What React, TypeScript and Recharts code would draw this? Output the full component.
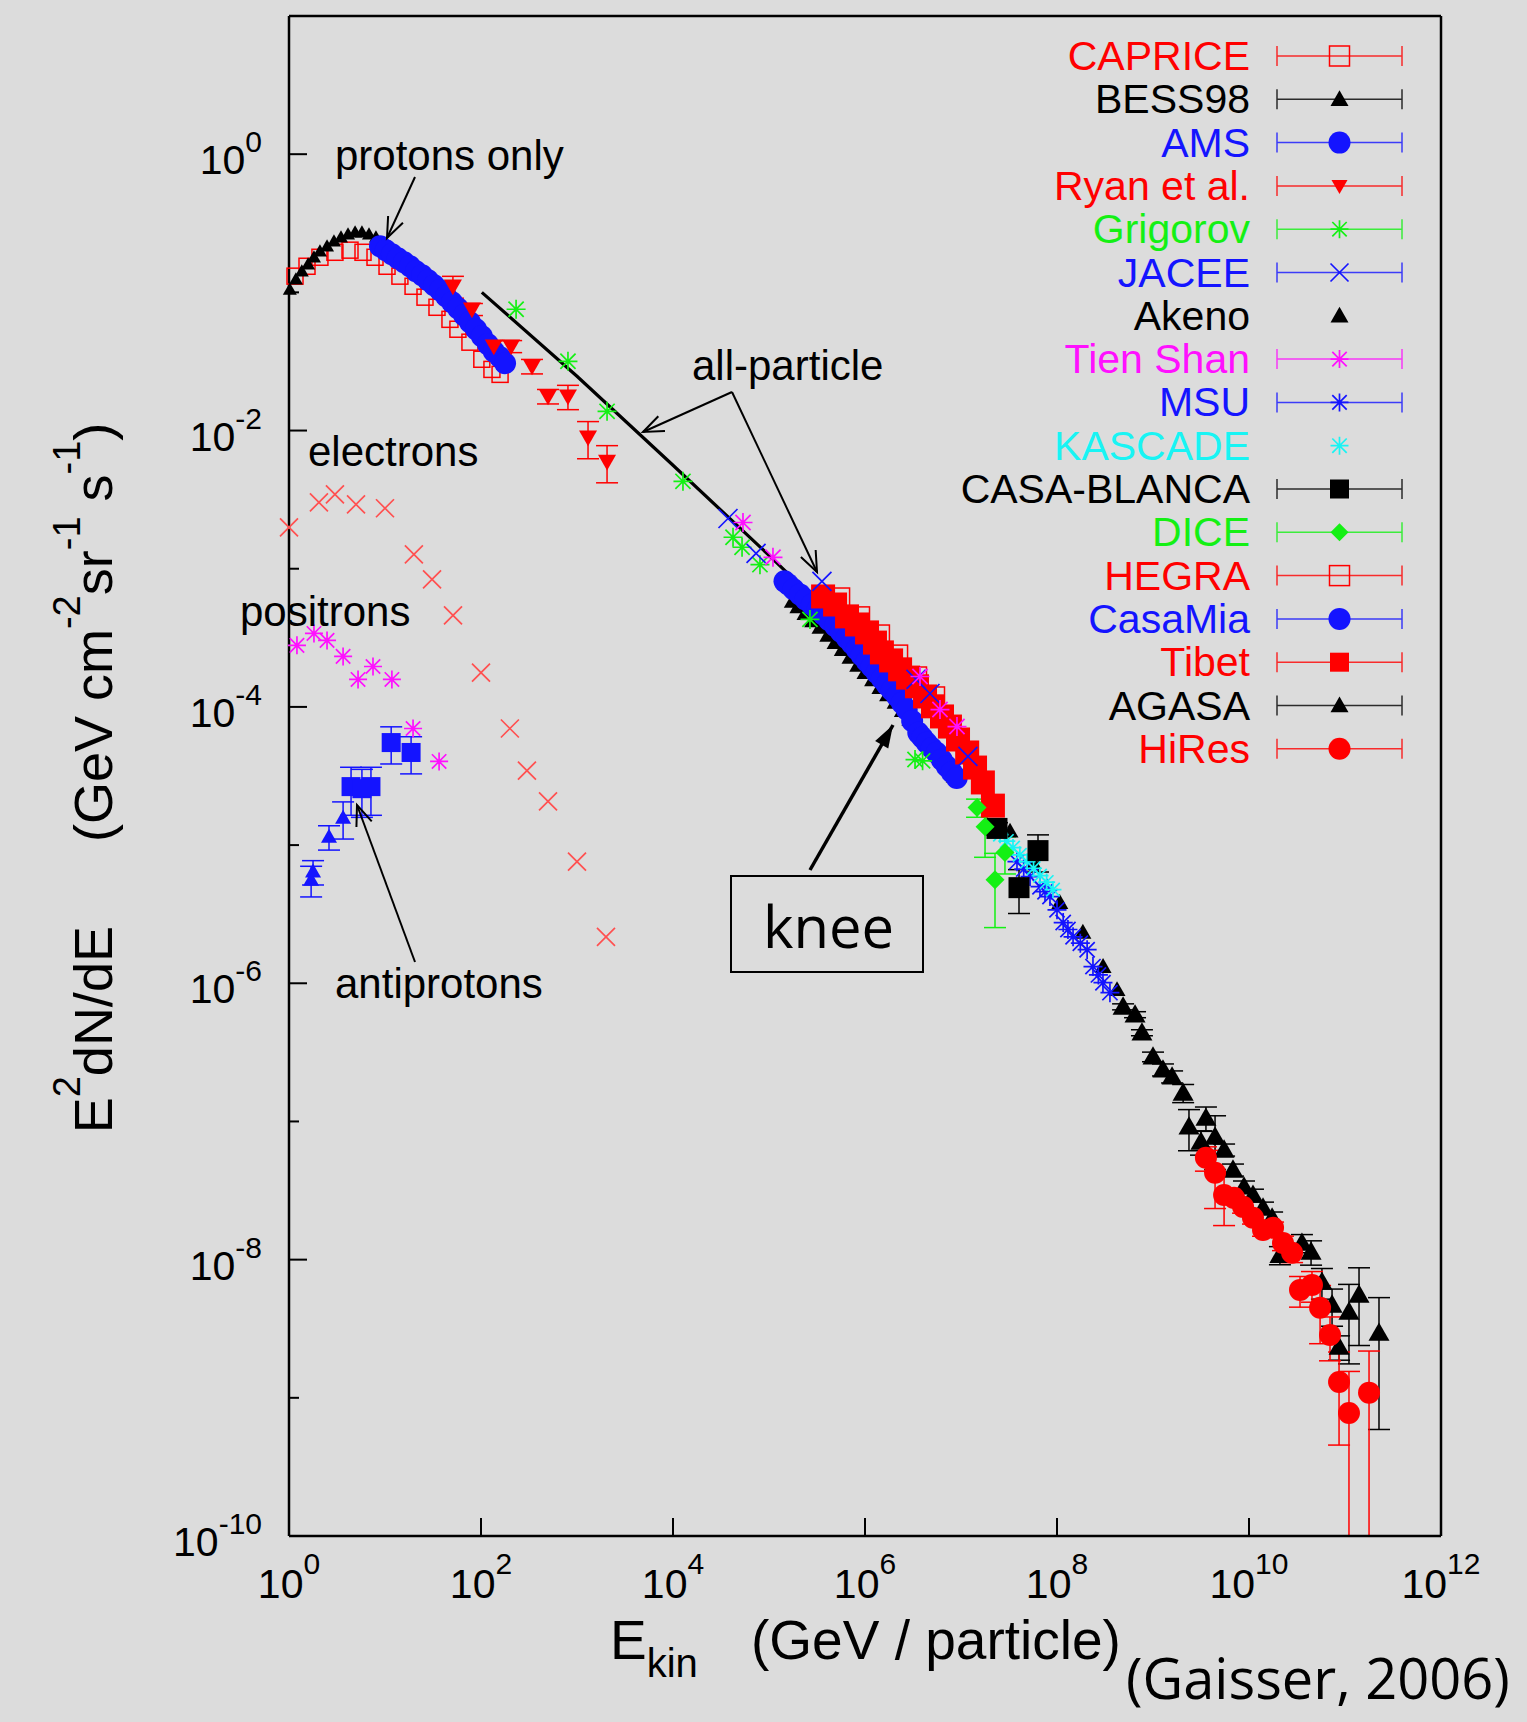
import React from 'react';
import { ScatterChart, Scatter, XAxis, YAxis, ErrorBar } from 'recharts';

// [E (GeV), E^2 dN/dE, relative error (optional)]
type Pt = [number, number, number?];

const caprice: Pt[] = [
  [1.155, 0.131], [1.54, 0.1545], [2.1, 0.1795], [3.01, 0.195], [4.32, 0.202], [5.9, 0.195],
  [7.87, 0.1795], [10.5, 0.1545], [14.3, 0.131], [19.6, 0.1107], [26.1, 0.0923], [34.8, 0.078],
  [47.5, 0.0638], [57.5, 0.0541], [76.7, 0.0436], [102, 0.0328], [130, 0.0277], [158, 0.0255],
];
const bess98: Pt[] = [
  [1.02, 0.105], [1.18, 0.1245], [1.36, 0.1422], [1.58, 0.1596], [1.82, 0.1795], [2.1, 0.1986],
  [2.49, 0.2158], [2.94, 0.2344], [3.48, 0.2506], [4.12, 0.2636], [4.88, 0.2723], [5.75, 0.2723],
  [6.81, 0.2636], [8.05, 0.2506], [11.3, 0.2123], [18.2, 0.1679], [29.4, 0.1285], [47.5, 0.0953], [76.7, 0.0661],
];
const ams: Pt[] = [
  [8.87, 0.2158], [10.2, 0.2018], [11.8, 0.1888], [13.6, 0.1766], [15.8, 0.1652], [18.2, 0.1545],
  [21.0, 0.1422], [24.3, 0.133], [28.1, 0.1225], [32.4, 0.1125], [37.4, 0.1035], [43.2, 0.0938],
  [49.9, 0.0847], [57.5, 0.0767], [66.5, 0.0682], [76.7, 0.0607], [88.7, 0.0541], [102, 0.0481],
  [118, 0.0421], [136, 0.0374], [158, 0.0339], [178, 0.0307],
];
const ryan: Pt[] = [
  [51.0, 0.1107, 0.18], [80.5, 0.0755, 0.1], [136, 0.0407, 0.1], [206, 0.0407, 0.1], [340, 0.0292, 0.12],
  [499, 0.0177, 0.12], [805, 0.0177, 0.2], [1303, 0.00893, 0.3], [2056, 0.00598, 0.3],
];
const grigorov: Pt[] = [
  [232, 0.0755], [805, 0.0317], [2056, 0.01377], [1.27e4, 4.29e-3], [4.22e4, 1.69e-3],
  [5.24e4, 1.43e-3], [8.05e4, 1.07e-3], [2.67e5, 4.3e-4], [3.32e6, 4.16e-5], [3.98e6, 4.07e-5],
];
const jacee: Pt[] = [
  [3.74e4, 2.31e-3], [7.33e4, 1.29e-3], [3.56e5, 8.09e-4], [3.4e6, 1.58e-4], [4.75e6, 1.25e-4], [1.18e7, 4.38e-5],
];
const tienShan: Pt[] = [
  [5.36e4, 2.16e-3], [1.1e5, 1.21e-3], [3.74e6, 1.66e-4], [6.04e6, 9.57e-5], [9.08e6, 7.21e-5],
];
const msu: Pt[] = [
  [3.83e7, 7.59e-6], [4.5e7, 6.7e-6], [5.24e7, 5.92e-6], [6.65e7, 5.0e-6], [7.5e7, 4.6e-6], [8.45e7, 4.24e-6],
  [1.0e8, 3.4e-6], [1.16e8, 2.75e-6], [1.3e8, 2.45e-6], [1.47e8, 2.17e-6], [1.75e8, 1.95e-6], [2.06e8, 1.75e-6],
  [2.37e8, 1.32e-6], [2.7e8, 1.15e-6], [3.01e8, 1.01e-6], [3.56e8, 8.55e-7],
];
const kascade: Pt[] = [
  [2.55e7, 1.19e-5], [3.0e7, 1.07e-5], [3.48e7, 9.59e-6], [4.1e7, 8.5e-6], [4.88e7, 7.59e-6],
  [5.7e7, 6.8e-6], [6.65e7, 6.01e-6], [7.8e7, 5.4e-6], [9.08e7, 4.76e-6],
];
const casaBlanca: Pt[] = [
  [2.37e7, 1.32e-5, 0.1], [6.34e7, 9.12e-6, 0.3], [4.02e7, 4.92e-6, 0.35],
];
const dice: Pt[] = [
  [1.47e7, 1.87e-5, 0.15], [1.78e7, 1.36e-5, 0.4], [2.87e7, 8.83e-6, 0.3], [2.26e7, 5.62e-6, 0.55],
];
const hegra: Pt[] = [
  [5.5e5, 6.19e-4], [8.87e5, 4.52e-4], [1.43e6, 3.34e-4], [2.21e6, 2.39e-4], [3.48e6, 1.66e-4], [5.36e6, 1.19e-4],
];
const casaMia: Pt[] = [
  [1.45e5, 8.1e-4], [1.59e5, 7.69e-4], [1.8e5, 7.1e-4], [2.1e5, 6.52e-4], [2.4e5, 6.0e-4], [2.79e5, 5.51e-4],
  [3.2e5, 5.05e-4], [3.68e5, 4.67e-4], [4.2e5, 4.25e-4], [4.88e5, 3.85e-4], [5.6e5, 3.5e-4], [6.44e5, 3.16e-4],
  [7.3e5, 2.88e-4], [8.18e5, 2.61e-4], [9.2e5, 2.37e-4], [1.04e6, 2.14e-4], [1.17e6, 1.95e-4], [1.32e6, 1.77e-4],
  [1.5e6, 1.6e-4], [1.68e6, 1.45e-4], [1.9e6, 1.32e-4], [2.14e6, 1.2e-4], [2.42e6, 1.07e-4], [2.72e6, 9.57e-5],
  [3.1e6, 7.9e-5], [3.59e6, 6.49e-5], [3.95e6, 6.0e-5], [4.39e6, 5.5e-5], [4.95e6, 5.05e-5], [5.58e6, 4.65e-5],
  [6.3e6, 4.15e-5], [7.1e6, 3.72e-5], [8.0e6, 3.37e-5], [9.02e6, 3.06e-5],
];
const tibet: Pt[] = [
  [3.66e5, 6.3e-4], [4.88e5, 5.51e-4], [6.5e5, 4.52e-4], [8.26e5, 3.95e-4], [1.05e6, 3.46e-4],
  [1.27e6, 2.92e-4], [1.5e6, 2.48e-4], [1.87e6, 2.17e-4], [2.32e6, 1.87e-4], [2.81e6, 1.63e-4],
  [3.48e6, 1.41e-4], [4.22e6, 1.19e-4], [5.11e6, 1.01e-4], [6.34e6, 8.53e-5], [7.67e6, 7.21e-5],
  [9.31e6, 5.81e-5], [1.16e7, 4.68e-5], [1.4e7, 3.64e-5], [1.69e7, 2.84e-5], [2.15e7, 1.93e-5],
];
const akeno: Pt[] = [
  [1.75e5, 5.8e-4], [2.0e5, 5.3e-4], [2.37e5, 4.74e-4], [2.85e5, 4.2e-4], [3.4e5, 3.76e-4], [4.1e5, 3.3e-4],
  [4.88e5, 2.92e-4], [5.8e5, 2.6e-4], [6.98e5, 2.28e-4], [8.4e5, 2.0e-4], [1.0e6, 1.77e-4], [1.2e6, 1.57e-4],
  [1.43e6, 1.38e-4], [1.72e6, 1.22e-4], [2.06e6, 1.08e-4], [2.45e6, 9.4e-5], [2.94e6, 8.11e-5], [3.5e6, 7.0e-5],
  [4.22e6, 6.0e-5], [6.03e6, 4.37e-5], [8.51e6, 3.16e-5], [3.24e7, 1.26e-5], [5.62e7, 7.46e-6], [1.07e8, 3.84e-6],
  [1.86e8, 2.34e-6], [3.02e8, 1.32e-6], [4.22e8, 8.99e-7],
];
const agasa: Pt[] = [
  [4.88e8, 6.76e-7, 0.05], [6.5e8, 5.93e-7, 0.05], [7.67e8, 4.39e-7, 0.05], [1.0e9, 2.94e-7, 0.08],
  [1.27e9, 2.37e-7, 0.1], [1.58e9, 2.11e-7, 0.1], [2.06e9, 1.61e-7, 0.15], [2.37e9, 9.16e-8, 0.33],
  [3.16e9, 7.13e-8, 0.2], [3.56e9, 1.06e-7, 0.2], [4.43e9, 7.74e-8, 0.42], [5.5e9, 6.24e-8, 0.1],
  [6.81e9, 4.47e-8, 0.1], [8.87e9, 3.37e-8, 0.1], [1.1e10, 2.94e-8, 0.1], [1.4e10, 2.37e-8, 0.1],
  [1.74e10, 2.01e-8, 0.1], [2.1e10, 1.08e-8, 0.15], [3.56e10, 1.32e-8, 0.15], [4.43e10, 1.14e-8, 0.2],
  [5.75e10, 6.9e-9, 0.25], [7.33e10, 4.71e-9, 0.3], [8.67e10, 2.34e-9, 0.2], [1.1e11, 4.19e-9, 0.58],
  [1.4e11, 5.56e-9, 0.57], [2.26e11, 2.95e-9, 0.8],
];
const hiRes: Pt[] = [
  [3.56e9, 5.46e-8, 0.2], [4.43e9, 4.26e-8, 0.45], [5.5e9, 2.94e-8, 0.4], [6.98e9, 2.8e-8, 0.1],
  [8.67e9, 2.41e-8, 0.1], [1.1e10, 2.01e-8, 0.1], [1.4e10, 1.64e-8, 0.1], [1.78e10, 1.7e-8, 0.1],
  [2.26e10, 1.32e-8, 0.12], [2.81e10, 1.12e-8, 0.15], [3.4e10, 6.04e-9, 0.25], [4.53e10, 6.56e-9, 0.25],
  [5.5e10, 4.48e-9, 0.45], [6.98e10, 2.85e-9, 0.35], [8.67e10, 1.3e-9, 0.65], [1.1e11, 7.76e-10, 1.0],
  [1.78e11, 1.09e-9, 1.0],
];
const electrons: Pt[] = [
  [1.0, 1.99e-3], [2.05, 3.02e-3], [3.01, 3.45e-3], [4.99, 2.92e-3], [10.0, 2.74e-3], [20.0, 1.27e-3],
  [30.9, 8.38e-4], [51.1, 4.59e-4], [100, 1.77e-4], [200, 6.98e-5], [301, 3.46e-5], [499, 2.07e-5],
  [1000, 7.6e-6], [2004, 2.17e-6],
];
const positrons: Pt[] = [
  [1.21, 2.79e-4], [1.82, 3.4e-4], [2.49, 3.03e-4], [3.66, 2.32e-4], [5.24, 1.58e-4], [7.5, 1.96e-4],
  [11.8, 1.58e-4], [19.6, 6.98e-5], [36.6, 4.03e-5],
];
const antiprotonsTri: Pt[] = [
  [1.7, 5.62e-6, 0.25], [1.78, 6.43e-6, 0.2], [2.61, 1.15e-5, 0.2], [3.66, 1.58e-5, 0.3],
];
const antiprotonsSq: Pt[] = [
  [4.43, 2.65e-5, 0.38], [5.75, 2.56e-5, 0.38], [7.14, 2.65e-5, 0.38], [11.6, 5.52e-5, 0.3], [18.7, 4.68e-5, 0.3],
];
const allParticle: Pt[] = [
  [102, 0.1], [1000, 0.0247], [1e4, 5.61e-3], [1e5, 1.25e-3], [1.66e5, 8.91e-4],
];

const xTicks = [1, 1e2, 1e4, 1e6, 1e8, 1e10, 1e12];
const yTicks = [1e-10, 1e-9, 1e-8, 1e-7, 1e-6, 1e-5, 1e-4, 1e-3, 1e-2, 1e-1, 1];

const RED = '#ff0000';
const BLUE = '#1414ff';
const GREEN = '#14f014';
const MAG = '#ff10ff';
const CYAN = '#18f4f4';
const BLACK = '#000000';
const SANS = '"Liberation Sans", Arial, Helvetica, sans-serif';
const OPEN = '"Open Sans", sans-serif';

const AXIS_MIN = 1e-10;
const toRows = (pts: Pt[]) =>
  pts.map(([e, f, rel]) => ({
    e,
    f,
    err: rel ? [Math.min(f * rel, f - AXIS_MIN), f * rel] : undefined,
  }));

function Mark({ kind, cx, cy, s, c }: { kind: string; cx: number; cy: number; s: number; c: string }) {
  const h = s / 2;
  if (kind === 'osq') return <rect x={cx - h} y={cy - h} width={s} height={s} fill="none" stroke={c} strokeWidth={1.5} />;
  if (kind === 'sq') return <rect x={cx - h} y={cy - h} width={s} height={s} fill={c} />;
  if (kind === 'circ') return <circle cx={cx} cy={cy} r={h} fill={c} />;
  if (kind === 'tri')
    return <path d={`M${cx} ${cy - h}L${cx + h} ${cy + h * 0.75}L${cx - h} ${cy + h * 0.75}Z`} fill={c} />;
  if (kind === 'dtri')
    return <path d={`M${cx} ${cy + h}L${cx + h} ${cy - h * 0.75}L${cx - h} ${cy - h * 0.75}Z`} fill={c} />;
  if (kind === 'dia') return <path d={`M${cx} ${cy - h}L${cx + h} ${cy}L${cx} ${cy + h}L${cx - h} ${cy}Z`} fill={c} />;
  if (kind === 'x')
    return (
      <path
        d={`M${cx - h} ${cy - h}L${cx + h} ${cy + h}M${cx - h} ${cy + h}L${cx + h} ${cy - h}`}
        stroke={c} strokeWidth={1.7} fill="none"
      />
    );
  // star: + and x together
  return (
    <path
      d={`M${cx - h} ${cy}L${cx + h} ${cy}M${cx} ${cy - h}L${cx} ${cy + h}M${cx - h * 0.8} ${cy - h * 0.8}L${cx + h * 0.8} ${cy + h * 0.8}M${cx - h * 0.8} ${cy + h * 0.8}L${cx + h * 0.8} ${cy - h * 0.8}`}
      stroke={c} strokeWidth={1.7} fill="none"
    />
  );
}

// draw order (later on top)
const plotSeries = [
  { name: 'CAPRICE', pts: caprice, kind: 'osq', color: RED, size: 16, bars: false },
  { name: 'BESS98', pts: bess98, kind: 'tri', color: BLACK, size: 14, bars: false },
  { name: 'AMS', pts: ams, kind: 'circ', color: BLUE, size: 22, bars: false },
  { name: 'Ryan et al.', pts: ryan, kind: 'dtri', color: RED, size: 18, bars: true },
  { name: 'electrons', pts: electrons, kind: 'x', color: '#ff5050', size: 18, bars: false },
  { name: 'positrons', pts: positrons, kind: 'star', color: MAG, size: 18, bars: false },
  { name: 'antiprotons A', pts: antiprotonsTri, kind: 'tri', color: BLUE, size: 16, bars: true },
  { name: 'antiprotons B', pts: antiprotonsSq, kind: 'sq', color: BLUE, size: 19, bars: true },
  { name: 'Akeno', pts: akeno, kind: 'tri', color: BLACK, size: 17, bars: false },
  { name: 'CasaMia', pts: casaMia, kind: 'circ', color: BLUE, size: 22, bars: false },
  { name: 'HEGRA', pts: hegra, kind: 'osq', color: RED, size: 19, bars: false },
  { name: 'Tibet', pts: tibet, kind: 'sq', color: RED, size: 24, bars: false },
  { name: 'Grigorov', pts: grigorov, kind: 'star', color: GREEN, size: 19, bars: false },
  { name: 'JACEE', pts: jacee, kind: 'x', color: BLUE, size: 19, bars: false },
  { name: 'Tien Shan', pts: tienShan, kind: 'star', color: MAG, size: 19, bars: false },
  { name: 'MSU', pts: msu, kind: 'star', color: BLUE, size: 19, bars: false },
  { name: 'KASCADE', pts: kascade, kind: 'star', color: CYAN, size: 17, bars: false },
  { name: 'CASA-BLANCA', pts: casaBlanca, kind: 'sq', color: BLACK, size: 21, bars: true },
  { name: 'DICE', pts: dice, kind: 'dia', color: GREEN, size: 19, bars: true },
  { name: 'AGASA', pts: agasa, kind: 'tri', color: BLACK, size: 21, bars: true },
  { name: 'HiRes', pts: hiRes, kind: 'circ', color: RED, size: 22, bars: true },
];

const legendNames = ['CAPRICE', 'BESS98', 'AMS', 'Ryan et al.', 'Grigorov', 'JACEE', 'Akeno', 'Tien Shan', 'MSU',
  'KASCADE', 'CASA-BLANCA', 'DICE', 'HEGRA', 'CasaMia', 'Tibet', 'AGASA', 'HiRes'];
const legendKinds = ['osq', 'tri', 'circ', 'dtri', 'star', 'x', 'tri', 'star', 'star', 'star', 'sq', 'dia', 'osq', 'circ', 'sq', 'tri', 'circ'];
const legendColors = [RED, BLACK, BLUE, RED, GREEN, BLUE, BLACK, MAG, BLUE, CYAN, BLACK, GREEN, RED, BLUE, RED, BLACK, RED];
const legendBars = [1, 1, 1, 1, 1, 1, 0, 1, 1, 0, 1, 1, 1, 1, 1, 1, 1];
const legendSizes = [20, 18, 22, 16, 18, 18, 18, 18, 18, 18, 19, 18, 20, 22, 19, 18, 22];

const YTick = (p: any) => {
  const { x, y, payload, side } = p;
  const exp = Math.round(Math.log10(payload.value));
  const major = exp % 2 === 0;
  const len = major ? 18 : 10;
  const dir = side === 'left' ? 1 : -1;
  return (
    <g>
      <line x1={x} y1={y} x2={x + dir * len} y2={y} stroke="#000" strokeWidth={2} />
      {side === 'left' && major && (
        <text x={x - 27} y={y + 20} textAnchor="end" fontSize={41} fontFamily={SANS} fill="#000">
          10<tspan dy={-22} fontSize={30}>{String(exp)}</tspan>
        </text>
      )}
    </g>
  );
};

const XTick = (p: any) => {
  const { x, y, payload, side } = p;
  const exp = Math.round(Math.log10(payload.value));
  const dir = side === 'bottom' ? -1 : 1;
  return (
    <g>
      <line x1={x} y1={y} x2={x} y2={y + dir * 18} stroke="#000" strokeWidth={2} />
      {side === 'bottom' && (
        <text x={x} y={y + 62} textAnchor="middle" fontSize={41} fontFamily={SANS} fill="#000">
          10<tspan dy={-24} fontSize={30}>{String(exp)}</tspan>
        </text>
      )}
    </g>
  );
};

function Arrow({ x1, y1, x2, y2, w = 2, head = 22, filled = false }: any) {
  const a = Math.atan2(y2 - y1, x2 - x1);
  const sp = filled ? 0.32 : 0.38;
  const ax = x2 - head * Math.cos(a - sp);
  const ay = y2 - head * Math.sin(a - sp);
  const bx = x2 - head * Math.cos(a + sp);
  const by = y2 - head * Math.sin(a + sp);
  return (
    <g>
      <line x1={x1} y1={y1} x2={x2} y2={y2} stroke="#000" strokeWidth={w} />
      {filled ? (
        <path d={`M${x2} ${y2}L${ax} ${ay}L${bx} ${by}Z`} fill="#000" />
      ) : (
        <path d={`M${ax} ${ay}L${x2} ${y2}L${bx} ${by}`} fill="none" stroke="#000" strokeWidth={w} />
      )}
    </g>
  );
}

const axisLine = { stroke: '#000', strokeWidth: 2.5 };

export default function App() {
  return (
    <div style={{ position: 'relative', width: 1527, height: 1722, background: '#dcdcdc', overflow: 'hidden' }}>
      <style>{'html,body{margin:0;padding:0;background:#dcdcdc;}'}</style>
      <ScatterChart width={1527} height={1722} margin={{ top: 10, right: 76, bottom: 106, left: 189 }}>
        <XAxis
          type="number" dataKey="e" scale="log" domain={[1, 1e12]}
          ticks={xTicks} interval={0} tickSize={0} tickMargin={0} tickLine={false}
          tick={(p: any) => <XTick {...p} side="bottom" />} axisLine={axisLine} height={80}
        />
        <XAxis
          xAxisId="top" orientation="top" type="number" scale="log" domain={[1, 1e12]}
          ticks={xTicks} interval={0} tickSize={0} tickMargin={0} tickLine={false}
          tick={(p: any) => <XTick {...p} side="top" />} axisLine={axisLine} height={6}
        />
        <YAxis
          type="number" dataKey="f" scale="log" domain={[1e-10, 10]}
          ticks={yTicks} interval={0} tickSize={0} tickMargin={0} tickLine={false}
          tick={(p: any) => <YTick {...p} side="left" />} axisLine={axisLine} width={100}
        />
        <YAxis
          yAxisId="right" orientation="right" type="number" scale="log" domain={[1e-10, 10]}
          ticks={yTicks} interval={0} tickSize={0} tickMargin={0} tickLine={false}
          tick={(p: any) => <YTick {...p} side="right" />} axisLine={axisLine} width={10}
        />
        {plotSeries.slice(0, 3).map((s) => (
          <Scatter
            key={s.name} name={s.name} data={toRows(s.pts)} isAnimationActive={false}
            shape={(p: any) => <Mark kind={s.kind} cx={p.cx} cy={p.cy} s={s.size} c={s.color} />}
          />
        ))}
        <Scatter
          name="all-particle" data={toRows(allParticle)} isAnimationActive={false}
          line={{ stroke: '#000', strokeWidth: 3.2 }} shape={() => <g />}
        />
        {plotSeries.slice(3).map((s) => (
          <Scatter
            key={s.name} name={s.name} data={toRows(s.pts)} isAnimationActive={false}
            shape={(p: any) => <Mark kind={s.kind} cx={p.cx} cy={p.cy} s={s.size} c={s.color} />}
          >
            {s.bars && <ErrorBar dataKey="err" direction="y" width={11} stroke={s.color} strokeWidth={1.5} />}
          </Scatter>
        ))}
      </ScatterChart>

      <svg width={1527} height={1722} style={{ position: 'absolute', left: 0, top: 0, pointerEvents: 'none' }}>
        {/* legend */}
        {legendNames.map((n, i) => {
          const yc = 56 + i * 43.3;
          return (
            <g key={n}>
              <text x={1250} y={yc + 14} textAnchor="end" fontSize={41} fontFamily={SANS} fill={legendColors[i]}>{n}</text>
              {legendBars[i] ? (
                <g stroke={legendColors[i]} strokeWidth={1.5} opacity={0.8}>
                  <line x1={1277} y1={yc} x2={1402} y2={yc} />
                  <line x1={1277} y1={yc - 10} x2={1277} y2={yc + 10} />
                  <line x1={1402} y1={yc - 10} x2={1402} y2={yc + 10} />
                </g>
              ) : null}
              <Mark kind={legendKinds[i]} cx={1339.5} cy={yc} s={legendSizes[i]} c={legendColors[i]} />
            </g>
          );
        })}

        {/* annotations */}
        <g fontFamily={SANS} fontSize={42} fill="#000">
          <text x={335} y={170}>protons only</text>
          <text x={692} y={380}>all-particle</text>
          <text x={308} y={466}>electrons</text>
          <text x={240} y={626}>positrons</text>
          <text x={335} y={998}>antiprotons</text>
        </g>
        <Arrow x1={415} y1={177} x2={387} y2={238} />
        <Arrow x1={732} y1={392} x2={643} y2={432} />
        <Arrow x1={732} y1={392} x2={817} y2={572} />
        <Arrow x1={415} y1={962} x2={357} y2={805} />
        <Arrow x1={810} y1={870} x2={893} y2={725} w={3.5} head={24} filled />

        <rect x={731} y={876} width={192} height={96} fill="none" stroke="#000" strokeWidth={2} />
        <text x={763} y={948} fontFamily={OPEN} fontSize={58} fill="#000">knee</text>

        {/* axis titles */}
        <text transform="translate(112,778) rotate(-90)" textAnchor="middle" fontFamily={SANS} fontSize={54} fill="#000">
          E<tspan dy={-32} fontSize={38}>2</tspan>
          <tspan dy={32}>dN/dE</tspan>
          <tspan dx={84}>(GeV cm</tspan>
          <tspan dy={-32} fontSize={38}>-2</tspan>
          <tspan dy={32}>sr</tspan>
          <tspan dy={-32} fontSize={38}>-1</tspan>
          <tspan dy={32}>{' s'}</tspan>
          <tspan dy={-32} fontSize={38}>-1</tspan>
          <tspan dy={32}>)</tspan>
        </text>
        <text x={610} y={1659} fontFamily={SANS} fontSize={55} fill="#000">
          E<tspan dy={18} fontSize={40}>kin</tspan>
          <tspan x={751} dy={-18}>(GeV / particle)</tspan>
        </text>
        <text x={1126} y={1699} fontFamily={OPEN} fontSize={56} fill="#000">(Gaisser, 2006)</text>
      </svg>
    </div>
  );
}
